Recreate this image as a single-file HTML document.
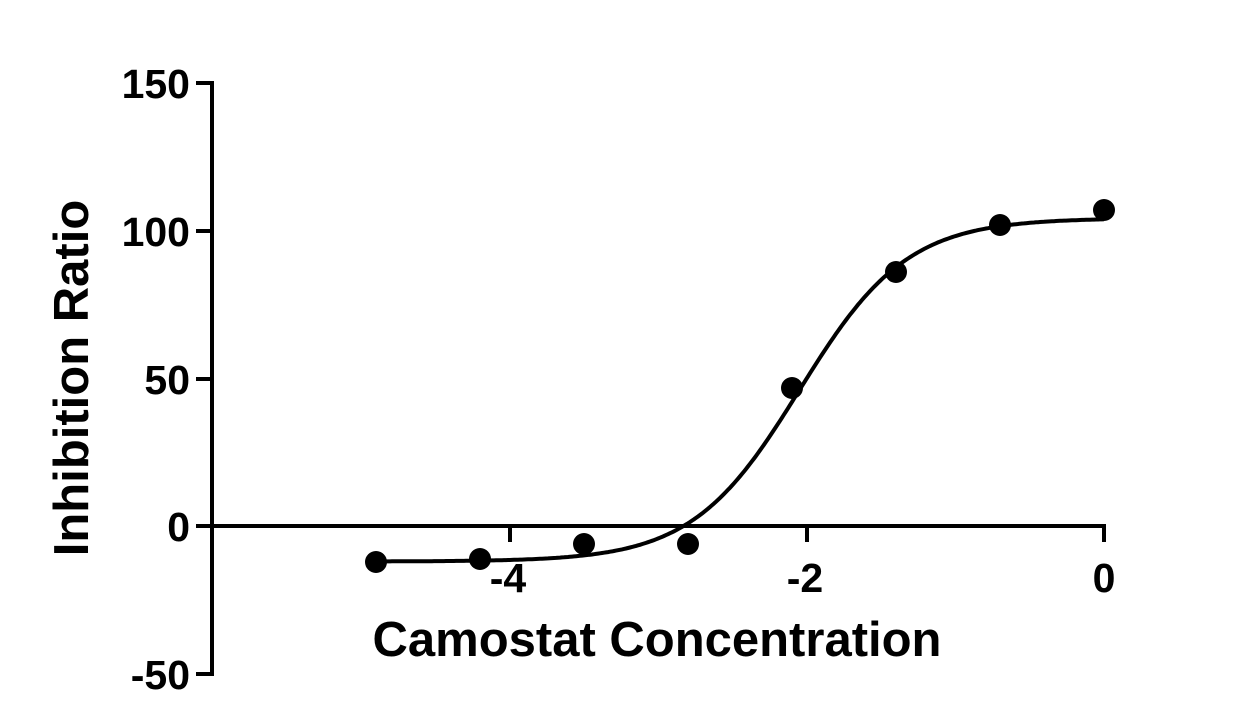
<!DOCTYPE html>
<html><head><meta charset="utf-8"><style>
html,body{margin:0;padding:0;background:#fff;}
svg{display:block}
text{font-family:"Liberation Sans",Arial,sans-serif;font-weight:bold;fill:#000}
</style></head><body>
<svg id="s" width="1241" height="709" viewBox="0 0 1241 709">
<g stroke="#000" stroke-width="4" fill="none">
<line x1="212" y1="81" x2="212" y2="676"/>
<line x1="196" y1="83" x2="212" y2="83"/>
<line x1="196" y1="231" x2="212" y2="231"/>
<line x1="196" y1="379" x2="212" y2="379"/>
<line x1="196" y1="526" x2="212" y2="526"/>
<line x1="196" y1="674" x2="212" y2="674"/>
<line x1="212" y1="526" x2="1106" y2="526"/>
<line x1="510" y1="526" x2="510" y2="542"/>
<line x1="807" y1="526" x2="807" y2="542"/>
<line x1="1104" y1="526" x2="1104" y2="542"/>
<path id="curve" stroke-width="4"/>
</g>
<g fill="#000">
<circle cx="376" cy="562" r="11"/>
<circle cx="480" cy="559" r="11"/>
<circle cx="584" cy="544" r="11"/>
<circle cx="688" cy="544" r="11"/>
<circle cx="792" cy="388" r="11"/>
<circle cx="896" cy="272" r="11"/>
<circle cx="1000" cy="225" r="11"/>
<circle cx="1104" cy="210" r="11"/>
</g>
<g font-size="41" text-anchor="end">
<text x="190" y="98">150</text>
<text x="190" y="246">100</text>
<text x="190" y="394">50</text>
<text x="190" y="541">0</text>
<text x="190" y="689">-50</text>
</g>
<g font-size="41" text-anchor="middle">
<text x="508" y="592">-4</text>
<text x="805" y="592">-2</text>
<text x="1104" y="592">0</text>
</g>
<text x="657" y="656" font-size="49" text-anchor="middle">Camostat Concentration</text>
<text transform="translate(88,378) rotate(-90)" font-size="49" text-anchor="middle">Inhibition Ratio</text>
</svg>
<script>
var d="",b=-12,t=104,c=-2.05,h=1.2;
for(var px=376;px<=1104;px+=2){var x=(px-1104)/148.5;var y=b+(t-b)/(1+Math.pow(10,(c-x)*h));var py=526-y*2.96;d+=(d?"L":"M")+px+","+py.toFixed(1);}
document.getElementById("curve").setAttribute("d",d);
</script>
</body></html>
